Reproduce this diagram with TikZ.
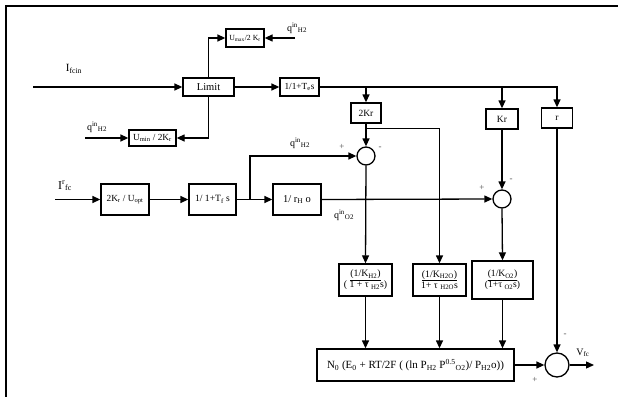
\documentclass[tikz,border=0pt]{standalone}
\usepackage{fontspec}
\setmainfont{Liberation Serif}
\usetikzlibrary{arrows.meta,calc}
\newcommand{\fs}[1]{\fontsize{#1}{#1}\selectfont}
\begin{document}
\begin{tikzpicture}[x=1pt,y=-1pt,
  box/.style={draw, line width=1.3pt, inner sep=1pt, align=center},
  sum/.style={circle, draw, line width=1.3pt, inner sep=0pt},
  arr/.style={-{Triangle[length=8pt,width=7pt]}, line width=1.3pt},
  lbl/.style={inner sep=0pt, font=\fs{10}},
  sgn/.style={inner sep=0pt, font=\fs{9}, text=black!70}]
\useasboundingbox (0,0) rectangle (618,396);
\draw[line width=2.4pt] (6,397) -- (6,6) -- (619,6);

% nodes
\node[box, minimum width=51pt, minimum height=18pt, font=\fs{10.5}] (limit) at (208.5,87) {Limit};
\node[box, minimum width=38pt, minimum height=18pt, font=\fs{7.8}] (umax) at (245,38) {U\textsubscript{max}/2 K\textsubscript{r}};
\node[box, minimum width=47pt, minimum height=16pt, font=\fs{9.3}] (umin) at (152.5,138) {U\textsubscript{min} / 2K\textsubscript{r}};
\node[box, minimum width=39pt, minimum height=18pt, font=\fs{9.3}] (te) at (299.5,87) {1/1+T\textsubscript{e}s};
\node[box, minimum width=30pt, minimum height=20pt, font=\fs{9.5}] (kr2) at (366,113) {2Kr};
\node[box, minimum width=32pt, minimum height=20pt, font=\fs{9.5}] (kr) at (502,119) {Kr};
\node[box, minimum width=31pt, minimum height=20pt, font=\fs{9.5}] (r) at (557,118) {r};
\node[box, minimum width=48pt, minimum height=31pt, font=\fs{9.3}] (kopt) at (125,199.5) {2K\textsubscript{r} / U\textsubscript{opt}};
\node[box, minimum width=47pt, minimum height=31pt, font=\fs{9.6}] (tf) at (212.5,199.5) {1/ 1+T\textsubscript{f} s};
\node[box, minimum width=48pt, minimum height=31pt, font=\fs{10.5}] (rh) at (297,199.5) {1/ r\textsubscript{H} o};
\node[sum, minimum size=18pt] (s1) at (366,156) {};
\node[sum, minimum size=18pt] (s2) at (502,199) {};
\node[box, minimum width=53pt, minimum height=32pt, font=\fontsize{9.8}{11}\selectfont] (kh2) at (365.5,280) {\underline{(1/K\textsubscript{H2})}\\( 1 + τ \textsubscript{H2}s)};
\node[box, minimum width=53pt, minimum height=32pt, font=\fontsize{9.8}{11}\selectfont] (kh2o) at (439.5,280) {\underline{(1/K\textsubscript{H2O})}\\1+ τ \textsubscript{H2O}s};
\node[box, minimum width=61pt, minimum height=38pt, font=\fontsize{9.6}{11}\selectfont] (ko2) at (502.5,280) {\underline{(1/K\textsubscript{O2})}\\(1+τ \textsubscript{O2}s)};
\node[box, minimum width=197pt, minimum height=32pt, font=\fs{11}] (big) at (415.5,365) {N\textsubscript{0} (E\textsubscript{0} + RT/2F ( (ln P\textsubscript{H2} P\textsuperscript{0.5}\textsubscript{O2})/ P\textsubscript{H2}o))};
\node[sum, minimum size=24pt] (s3) at (557,365) {};

% free ends
\coordinate (in1) at (33,87);
\coordinate (qa) at (295,38);
\coordinate (qb) at (85,138);
\coordinate (in2) at (55,199.5);
\coordinate (j1) at (250,199.5);
\coordinate (out) at (594,365);

% connectors
\draw[arr] (in1) -- (limit.west);
\draw[arr] (limit.north) |- (umax.west);
\draw[arr] (qa) -- (umax.east);
\draw[arr] (limit.south) |- (umin.east);
\draw[arr] (qb) -- (umin.west);
\draw[arr] (limit.east) -- (te.west);
\draw[arr] (te.east) -| (r.north);
\draw[arr] (kr2.north |- te.east) -- (kr2.north);
\draw[arr] (kr.north |- te.east) -- (kr.north);
\draw[arr] (kr2.south) -- (s1.north);
\draw[arr] ($(kr2.south)+(0,5)$) -| (kh2o.north);
\draw[arr] (in2) -- (kopt.west);
\draw[arr] (kopt.east) -- (tf.west);
\draw[arr] (tf.east) -- (rh.west);
\draw[arr] (j1) |- (s1.west);
\draw[arr] (rh.east) -- (s2.west);
\draw[arr] (kr.south) -- (s2.north);
\draw[arr] (s1.south) -- (kh2.north);
\draw[arr] (s2.south) -- (ko2.north);
\draw[arr] (kh2.south) -- (kh2.south |- big.north);
\draw[arr] (kh2o.south) -- (kh2o.south |- big.north);
\draw[arr] (ko2.south) -- (ko2.south |- big.north);
\draw[arr] (big.east) -- (s3.west);
\draw[arr] (r.south) -- (s3.north);
\draw[arr] (s3.east) -- (out);

% labels
\node[lbl, font=\fs{11}] (l1) at (74,69) {I\textsubscript{fcin}};
\node[lbl] (l2) at (297,28) {q\textsuperscript{in}\textsubscript{H2}};
\node[lbl] (l3) at (97,127) {q\textsuperscript{in}\textsubscript{H2}};
\node[lbl] (l4) at (300,143) {q\textsuperscript{in}\textsubscript{H2}};
\node[lbl, font=\fs{12}] (l5) at (65,186) {I\textsuperscript{r}\textsubscript{fc}};
\node[lbl] (l6) at (344,215) {q\textsuperscript{in}\textsubscript{O2}};
\node[lbl] (l7) at (583,353) {V\textsubscript{fc}};
\node[sgn] (p1) at (342,147) {+};
\node[sgn] (m1) at (380,148) {-};
\node[sgn] (p2) at (482,188) {+};
\node[sgn] (m2) at (511,180) {-};
\node[sgn] (m3) at (565,335) {-};
\node[sgn] (p3) at (535,380) {+};
\end{tikzpicture}
\end{document}
